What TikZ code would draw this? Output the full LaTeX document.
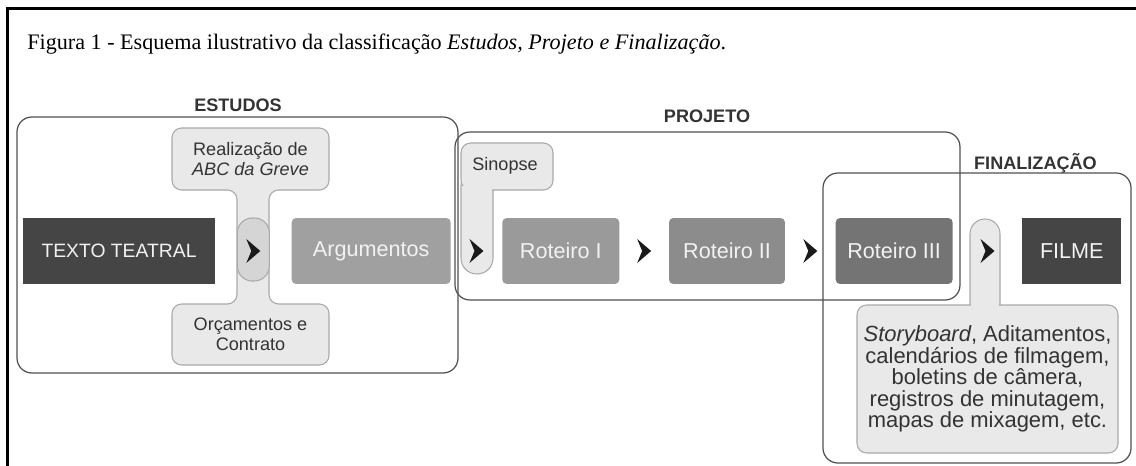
\documentclass[tikz,border=0pt]{standalone}
\usepackage{fontspec}
\setmainfont{Liberation Serif}
\setsansfont{Liberation Sans}
\usepackage{tikz}
\usetikzlibrary{positioning}
\usetikzlibrary{calc}

\definecolor{darkbox}{HTML}{454545}
\definecolor{argbox}{HTML}{A0A0A0}
\definecolor{rotAbox}{HTML}{9A9A9A}
\definecolor{rotBbox}{HTML}{8C8C8C}
\definecolor{rotCbox}{HTML}{747474}
\definecolor{calloutfill}{HTML}{E9E9E9}
\definecolor{calloutline}{HTML}{A9A9A9}
\definecolor{pillfill}{HTML}{D5D5D5}
\definecolor{frameline}{HTML}{505050}
\definecolor{labeltext}{HTML}{333333}
\definecolor{boxtext}{HTML}{F2F2F2}
\definecolor{chevcol}{HTML}{1A1A1A}

\tikzset{
	stage/.style={minimum height=1.32cm, inner sep=0pt, text=boxtext, font=\sffamily\fontsize{12.3}{14}\selectfont},
	groupframe/.style={draw=frameline, line width=0.7pt, rounded corners=8.5pt},
	grouplabel/.style={font=\sffamily\bfseries\fontsize{10.3}{12}\selectfont, text=labeltext},
	callout/.style={fill=calloutfill, draw=calloutline, line width=0.6pt},
	callouttext/.style={font=\sffamily\fontsize{10.3}{11.3}\selectfont, text=labeltext, align=center},
	pill/.style={fill=pillfill, draw=calloutline, line width=0.6pt, rounded corners=8.5pt},
	chev/.pic={\fill[chevcol] (-7,-12) -- (7,0) -- (-7,12) -- (-2,0) -- cycle;}
}

\begin{document}
\begin{tikzpicture}[x=0.02cm, y=-0.02cm]
				\useasboundingbox (0,0) rectangle (1136,466);

				% outer frame and caption
				\draw[line width=1.4pt] (7.5,466) -- (7.5,8.5) -- (1136,8.5);
				\node[anchor=base west, inner sep=0pt, font=\fontsize{12.6}{15}\selectfont] (caption) at (27,50)
					{Figura 1 - Esquema ilustrativo da classificação \textit{Estudos, Projeto e Finalização}.};

				% stages
				\node[stage, fill=darkbox, minimum width=3.84cm, font=\sffamily\fontsize{11}{13}\selectfont] (texto) at (119,251) {TEXTO TEATRAL};
				\node[stage, fill=argbox, rounded corners=2.5pt, minimum width=3.18cm, right=1.52cm of texto] (arg) {Argumentos};
				\node[stage, fill=rotAbox, rounded corners=2.5pt, minimum width=2.34cm, right=1.02cm of arg] (rot1) {Roteiro I};
				\node[stage, fill=rotBbox, rounded corners=2.5pt, minimum width=2.32cm, right=0.98cm of rot1] (rot2) {Roteiro II};
				\node[stage, fill=rotCbox, rounded corners=2.5pt, minimum width=2.34cm, right=1.0cm of rot2] (rot3) {Roteiro III};
				\node[stage, fill=darkbox, minimum width=1.98cm, right=1.38cm of rot3] (filme) {FILME};

				% points between stages
				\coordinate (c1) at ($(texto.east)!0.5!(arg.west)$);
				\coordinate (c2) at ($(arg.east)!0.5!(rot1.west)$);
				\coordinate (c3) at ($(rot1.east)!0.5!(rot2.west)$);
				\coordinate (c4) at ($(rot2.east)!0.5!(rot3.west)$);
				\coordinate (c5) at ($(rot3.east)!0.5!(filme.west)$);

				% groups
				\draw[groupframe] (17,117) rectangle (458,373);
				\draw[groupframe] (455,132) rectangle (960,300);
				\draw[groupframe] (823,173) rectangle (1131,463);
				\node[grouplabel] (estudos) at (238,105) {ESTUDOS};
				\node[grouplabel] (projeto) at (707,116.5) {PROJETO};
				\node[grouplabel, anchor=east] (finaliz) at (1103,163.5) {FINALIZAÇÃO};

				% callouts
				\draw[callout, rounded corners=5.5pt] (250,128) -- (329,128) -- (329,190) -- (269,190) -- (269,304) -- (329,304)
					-- (329,365) -- (172,365) -- (172,304) -- (237,304) -- (237,190) -- (172,190) -- (172,128) -- cycle;
				\draw[pill] ($(c1)+(-16,-33)$) rectangle ($(c1)+(16,30)$);
				\node[callouttext] (realiz) at (250.5,159) {Realização de\\\textit{ABC da Greve}};
				\node[callouttext] (orcam) at (250.5,334.5) {Orçamentos e\\Contrato};

				\draw[callout, rounded corners=9pt] (461,170) rectangle (493,274);
				\draw[callout, rounded corners=5.5pt] (461,143) rectangle (553,190);
				\fill[calloutfill] (461.7,186) rectangle (492.3,194);
				\node[callouttext] (sinopse) at (505,166) {Sinopse};

				\draw[callout, rounded corners=8.5pt] (970,219) rectangle (1000,320);
				\draw[callout, rounded corners=5.5pt] (857,305) rectangle (1118,453);
				\fill[calloutfill] (970.7,300) rectangle (999.3,306);
				\node[callouttext, font=\sffamily\fontsize{12.5}{12.3}\selectfont] (story) at (987.5,379)
					{\textit{Storyboard}, Aditamentos,\\calendários de filmagem,\\boletins de câmera,\\registros de minutagem,\\mapas de mixagem, etc.};

				% chevrons
				\foreach \c in {c1,c2,c3,c4,c5}
					\pic at (\c) {chev};
			\end{tikzpicture}
\end{document}
